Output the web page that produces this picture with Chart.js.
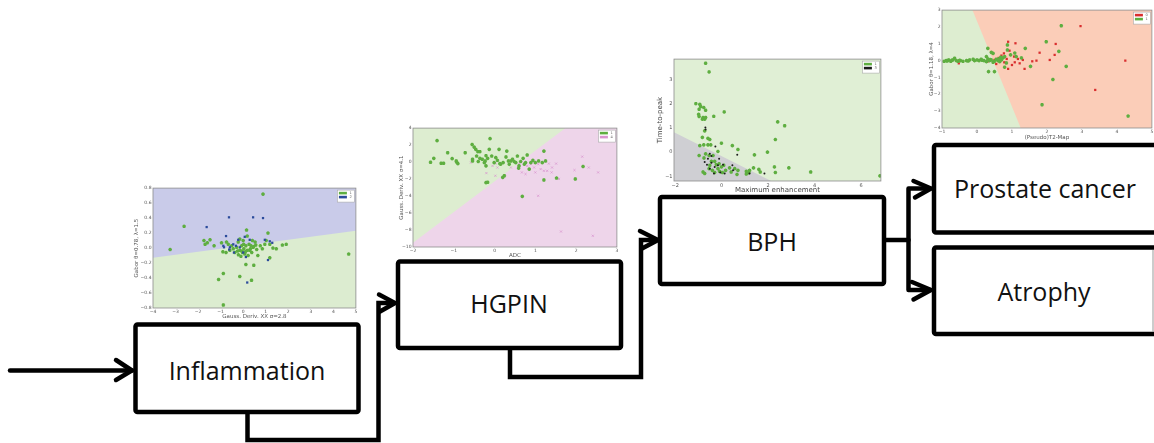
<!DOCTYPE html>
<html>
<head>
<meta charset="utf-8">
<script src="https://cdn.jsdelivr.net/npm/chart.js@4.4.1/dist/chart.umd.min.js"></script>
<style>
  body { margin: 0; background: #fff; width: 1154px; height: 443px; overflow: hidden; position: relative; }
  svg { position: absolute; left: 0; top: 0; }
  canvas.plot { position: absolute; }
  .box text { font-family: "Open Sans", Lato, sans-serif; font-size: 25px; fill: #111; text-anchor: middle; }
</style>
</head>
<body>

<svg width="1154" height="443" viewBox="0 0 1154 443">
  <g fill="none" stroke="#000" stroke-width="4.5" stroke-linecap="round" stroke-linejoin="miter">
    <!-- input arrow -->
    <path d="M10,370.5 H132"/>
    <path d="M116,360 L132,370.5 L116,380"/>
    <!-- Inflammation -> HGPIN -->
    <path d="M247.5,412 V440 H378.5 V303 H394"/>
    <path d="M379,294.5 L395,303 L380,311.5"/>
    <!-- HGPIN -> BPH -->
    <path d="M510,348 V377 H641 V240 H657"/>
    <path d="M640,231 L658,240 L642,248.5"/>
    <!-- BPH -> branches -->
    <path d="M884,240 H908.5"/>
    <path d="M908.5,188.5 V290 M908.5,188.5 H930 M908.5,290 H930"/>
    <path d="M913.5,181 L931,188.5 L915,197.5"/>
    <path d="M912,282 L931,290 L913.5,299.5"/>
  </g>
  <g class="box" fill="#fff" stroke="#000" stroke-width="4.5">
    <rect x="135.5" y="324.5" width="223" height="87.5" rx="2"/>
    <rect x="398" y="261.5" width="223" height="86.5" rx="2"/>
    <rect x="660" y="197" width="224" height="87" rx="2"/>
    <rect x="934" y="145" width="240" height="87.5" rx="2"/>
    <rect x="934" y="247.5" width="240" height="86.5" rx="2"/>
  </g>
  <line x1="1153" y1="250" x2="1153" y2="332" stroke="#999" stroke-width="1"/>
  <g class="box">
    <text x="247" y="380">Inflammation</text>
    <text x="509" y="313">HGPIN</text>
    <text x="772" y="251">BPH</text>
    <text x="1045" y="198">Prostate cancer</text>
    <text x="1044" y="301">Atrophy</text>
  </g>
</svg>

<canvas id="plotInfl" class="plot"></canvas>
<canvas id="plotHgpin" class="plot"></canvas>
<canvas id="plotBph" class="plot"></canvas>
<canvas id="plotPca" class="plot"></canvas>

<script>
// ---------- Inflammation stage: Gauss. Deriv. XX vs Gabor ----------
const inflXTicks = [-4, -3, -2, -1, 0, 1, 2, 3, 4, 5];
const inflYTicks = [-0.8, -0.6, -0.4, -0.2, 0, 0.2, 0.4, 0.6, 0.8];
const inflBoundary = [[-4, -0.13], [5, 0.23]];
const inflClass1 = [
  [0.88, 0.72], [-2.62, 0.29], [-3.24, -0.02], [-1.74, 0.10], [-1.69, 0.05], [-1.59, 0.07], [-1.47, 0.11],
  [-1.29, 0.03], [-0.96, 0.07], [-0.74, 0.08], [-0.76, -0.06], [-0.88, -0.34], [-1.09, -0.42], [-0.88, -0.76],
  [-0.15, -0.38], [0.15, 0.24], [0.18, 0.16], [0.12, -0.22], [0.47, -0.23], [0.37, -0.43], [1.10, 0.20],
  [1.18, 0.05], [1.32, 0.0], [1.47, -0.01], [1.18, -0.13], [1.74, 0.04], [1.91, 0.05], [0.65, -0.10],
  [0.56, 0.04], [0.44, 0.01], [0.29, -0.03], [4.68, -0.08],
  [-0.51, 0.03], [-0.44, -0.01], [-0.37, -0.06], [-0.29, 0.01], [-0.22, 0.08], [-0.15, -0.03], [-0.07, 0.03],
  [-0.03, -0.06], [0.03, -0.01], [0.07, -0.08], [0.12, 0.03], [0.18, -0.03], [0.22, -0.10], [0.26, 0.05],
  [0.32, -0.01], [0.38, -0.06], [0.41, 0.10], [0.47, 0.02], [0.53, 0.08], [0.0, 0.10], [-0.15, 0.12],
  [-0.59, -0.03], [-0.66, 0.05], [-0.21, -0.09], [-0.10, -0.11], [0.76, 0.03], [0.96, 0.05], [0.85, -0.01],
  [-0.05, -0.04], [0.10, -0.05], [0.02, 0.05], [-0.25, -0.04], [0.35, 0.03], [0.60, -0.02], [1.02, 0.10], [-0.90, -0.05]
];
const inflClass2 = [
  [-0.63, 0.41], [0.44, 0.41], [0.88, 0.40], [-1.62, 0.28], [-0.76, 0.16], [0.07, 0.15], [0.29, 0.11],
  [0.96, 0.11], [1.18, 0.09], [1.29, 0.07], [-0.88, 0.03], [-0.85, 0.01], [-0.62, -0.02], [-0.44, 0.05],
  [-0.32, 0.03], [-0.22, 0.11], [-0.15, 0.01], [-0.41, -0.06], [0.12, -0.12], [0.18, -0.46], [1.10, -0.16],
  [-0.59, 0.01], [0.0, -0.06]
];

// ---------- HGPIN stage: ADC vs Gauss. Deriv. XX ----------
const hgpinXTicks = [-2, -1, 0, 1, 2, 3];
const hgpinYTicks = [-10, -8, -6, -4, -2, 0, 2, 4];
const hgpinBoundary = [[-2, -9.5], [1.74, 4]];
const hgpinClass1 = [
  [-1.41, 2.53], [-1.57, -0.02], [-1.49, 0.44], [-1.31, -0.14], [-1.25, -0.14], [-1.15, 1.10], [-1.04, 0.40],
  [-0.94, 0.13], [-0.90, -0.18], [-0.93, 0], [-0.72, 1.10], [-0.55, 2.07], [-0.50, 1.76], [-0.46, 1.49],
  [-0.41, 1.22], [-0.36, 1.22], [-0.44, 0.71], [-0.54, 0.33], [-0.54, 0.13], [-0.23, 0.13], [-0.21, 0.75],
  [-0.17, 0.44], [-0.13, 1.49], [-0.11, 2.76], [-0.25, -0.06], [-0.21, -0.45], [-0.17, -2.38], [-0.21, -2.42],
  [-0.07, 0.71], [-0.01, -0.06], [0.07, 0.21], [0.11, 1.49], [0.15, -0.25], [0.21, -0.06], [0.20, -1.80],
  [0.24, -1.61], [0.28, 0.60], [0.30, 1.29], [0.36, -0.25], [0.34, 0.13], [0.44, 0.33], [0.48, 0.06],
  [0.52, -0.06], [0.56, 0.71], [0.60, -0.45], [0.59, -0.72], [0.64, 0.06], [0.70, 0.44], [0.68, -4.04],
  [0.76, -0.06], [0.80, 0.83], [0.85, -0.83], [0.89, -0.06], [0.94, 0.21], [1.0, -0.06], [1.08, 0.13],
  [1.17, -0.06], [1.21, 1.29], [1.21, -2.11], [1.25, 0.13], [1.52, -1.88], [1.98, -1.99], [2.17, -0.52],
  [-0.30, 0.33], [-0.40, 0.06], [-0.36, 0.44], [0.03, 0.52], [0.13, -0.18], [0.40, 0.13], [0.73, -0.25]
];
const hgpinClass4 = [
  [0.03, -0.18], [-0.05, -0.45], [0.07, -0.64], [-0.20, -1.30], [0.02, -1.61], [0.40, -0.64], [0.60, -0.18],
  [0.67, -1.22], [0.76, -1.41], [0.80, -0.45], [1.0, -1.22], [1.07, -0.25], [1.21, -1.03], [1.29, -1.03],
  [1.33, -0.18], [1.40, -1.22], [1.41, -0.64], [1.58, -1.99], [1.96, -0.95], [2.15, 0.64], [2.31, -0.64],
  [2.54, -1.22], [1.07, -3.97], [1.63, -8.18], [2.41, -8.68], [0.89, -0.25], [0.97, -0.64], [1.13, -0.83],
  [1.51, -0.18], [-0.58, -0.06]
];

// ---------- BPH stage: Maximum enhancement vs Time-to-peak ----------
const bphXTicks = [-2, 0, 2, 4, 6];
const bphYTicks = [-1, 0, 1, 2, 3];
const bphBoundary = [[-2.05, 0.82], [2.13, -1.19]];
const bphClass1 = [
  [-0.69, 3.67], [-0.54, 3.31], [-1.11, 2.0], [-0.94, 1.97], [-0.90, 1.88], [-0.77, 1.84], [-0.97, 1.77],
  [-0.69, 1.73], [-0.99, 1.56], [-0.97, 1.47], [-0.80, 1.43], [-0.73, 1.36], [-0.69, 1.43], [-0.83, 1.36],
  [-0.34, 1.48], [0.11, 1.66], [-0.73, 0.88], [-0.83, 0.61], [-0.59, 0.57], [-0.51, 0.52], [-0.94, 0.27],
  [-0.77, 0.30], [-0.59, 0.30], [-0.47, 0.30], [-0.01, 0.37], [0.46, 0.27], [0.70, 0.11], [-0.16, 0.03],
  [-0.97, -0.14], [-0.69, -0.07], [-0.54, -0.14], [-0.44, -0.38], [-0.30, -0.38], [0.09, -0.54], [0.34, -0.65],
  [0.56, -0.68], [0.70, -0.75], [0.41, -0.82], [0.66, -0.92], [1.06, -0.79], [1.20, -0.75], [1.37, -0.65],
  [1.60, -0.71], [1.66, -0.82], [1.41, -0.11], [1.97, 0.0], [2.41, 1.25], [2.71, 1.09], [2.31, 0.52],
  [2.27, -0.61], [2.31, -0.84], [2.89, -0.65], [3.83, -0.82], [6.81, -0.98], [-0.80, -0.82], [-0.73, -0.88],
  [-0.54, -0.68], [-0.40, -0.75], [-0.23, -0.52], [-0.16, -0.68], [-0.09, -0.79], [-0.01, -0.61], [0.03, -0.84],
  [0.17, -0.75], [-0.30, -0.84], [-0.51, -0.54], [-0.37, -0.14], [-0.76, -0.24], [-0.11, -0.48], [1.06, -0.90],
  [1.17, -0.85]
];
const bphClass3 = [
  [-0.70, 1.02], [-0.69, 0.93], [-0.27, 0.23], [-0.51, -0.07], [-0.44, -0.16], [-0.59, -0.27], [0.67, -0.11],
  [0.46, -0.54], [-0.63, -0.52], [-0.51, -0.68], [-0.30, -0.61], [-0.16, -0.54], [0.06, -0.52], [-0.33, -0.88],
  [-0.06, -0.84], [0.13, -0.88], [0.49, -0.75], [1.20, -0.88], [1.84, -0.88], [-0.73, -0.41], [-0.44, -0.44],
  [-0.11, -0.27]
];

// ---------- last stage: (Pseudo)T2-Map vs Gabor ----------
const pcaXTicks = [-1, 0, 1, 2, 3, 4, 5];
const pcaYTicks = [-4, -3, -2, -1, 0, 1, 2, 3];
const pcaBoundary = [[-1, 3], [-0.13, 3], [1.25, -4]];
const pcaClass0 = [
  [-0.52, -0.16], [0.30, -0.06], [0.50, 0.04], [0.55, -0.20], [0.62, 0.16], [0.70, 0.30], [0.77, 0.43],
  [0.89, 1.12], [0.93, 0.59], [1.06, 0.24], [1.10, 1.03], [1.08, -0.10], [1.17, 0.10], [1.22, -0.16],
  [1.31, 0.04], [1.36, -0.49], [1.0, -0.26], [0.89, -0.49], [1.58, -0.04], [1.70, 0.0], [1.79, 0.47],
  [2.08, 0.04], [2.22, 0.34], [2.25, 0.99], [2.96, 2.05], [3.38, -1.74], [4.24, 0.0], [0.78, -0.10],
  [0.85, 0.10], [0.65, 0.0]
];
const pcaClass1 = [
  [-0.94, -0.04], [-0.88, 0], [-0.81, 0.04], [-0.75, -0.04], [-0.69, 0.04], [-0.64, 0.14], [-0.59, 0],
  [-0.54, -0.04], [-0.47, 0], [-0.40, -0.04], [-0.30, 0], [-0.21, 0.04], [-0.11, 0.08], [-0.07, 0],
  [0, 0.04], [0.06, 0], [0.12, 0.08], [0.20, 0], [0.27, -0.06], [0.31, 0.10], [0.36, 0], [0.41, 0.04],
  [0.46, -0.10], [0.50, -0.04], [0.55, 0.08], [0.60, 0], [0.65, -0.06], [0.70, 0.04], [0.74, 0.16],
  [0.79, 0.24], [0.31, 0.73], [0.41, 0.49], [0.46, 0.43], [0.33, -0.65], [0.50, -0.65], [0.27, 0.24],
  [0.87, 0.93], [0.87, 0.63], [0.96, 0.34], [1.08, 0.45], [1.12, 0.24], [1.27, 0.16], [1.38, 0.73],
  [0.79, -0.39], [0.84, -0.14], [1.53, -0.34], [1.98, 1.12], [2.34, 0.55], [2.41, 2.07], [2.17, -1.12],
  [2.55, -0.34], [1.86, -2.62], [4.32, -3.29], [-0.85, -0.02], [-0.72, 0.02], [-0.50, 0.02], [-0.25, -0.02],
  [0.15, 0.02], [0.38, 0.06], [0.62, 0.10], [0.68, 0.20]
];

const GREEN = '#5eae40';

// background, frame and the little legend box of each plot
const plotDecor = {
  id: 'plotDecor',
  beforeDatasetsDraw(chart, args, opts) {
    const a = chart.chartArea, ctx = chart.ctx;
    ctx.save();
    ctx.fillStyle = opts.bg;
    ctx.fillRect(a.left, a.top, a.right - a.left, a.bottom - a.top);
    ctx.restore();
  },
  afterDatasetsDraw(chart, args, opts) {
    const a = chart.chartArea, ctx = chart.ctx;
    ctx.save();
    ctx.strokeStyle = '#8c8c8c';
    ctx.lineWidth = 0.8;
    ctx.strokeRect(a.left, a.top, a.right - a.left, a.bottom - a.top);

    const series = chart.data.datasets.filter(d => d.type === 'scatter');
    const bw = 17, bh = 4 + series.length * 4;
    const bx = a.right - bw - 1.5, by = a.top + 2;
    ctx.fillStyle = '#fff';
    ctx.fillRect(bx, by, bw, bh);
    ctx.strokeStyle = '#aaa';
    ctx.lineWidth = 0.6;
    ctx.strokeRect(bx, by, bw, bh);
    ctx.font = '3.6px "DejaVu Sans"';
    ctx.textBaseline = 'middle';
    series.forEach((d, i) => {
      const y = by + 3 + i * 4;
      ctx.fillStyle = d.legendColor;
      ctx.fillRect(bx + 1.5, y - 1.3, 8, 2.6);
      ctx.fillStyle = '#666';
      ctx.fillText(d.label, bx + 12, y);
    });
    ctx.restore();
  }
};

function fmtTick(v, dec) {
  const s = Math.abs(v).toFixed(dec);
  return v < 0 ? '\u2212' + s : s;
}

function makeAxis(o, horizontal) {
  const ax = horizontal ? o.x : o.y;
  return {
    type: 'linear',
    min: ax.min,
    max: ax.max,
    grid: { display: false, drawTicks: false },
    border: { display: false },
    afterBuildTicks: s => { s.ticks = ax.ticks.map(v => ({ value: v })); },
    ticks: {
      autoSkip: false, maxRotation: 0, padding: 1.5,
      color: '#555',
      font: { family: 'DejaVu Sans', size: o.tickSize },
      callback: v => fmtTick(v, ax.dec || 0)
    },
    title: {
      display: true, text: ax.title, color: o.titleColor || '#555', padding: 0,
      font: { family: 'DejaVu Sans', size: o.titleSize }
    },
    afterFit: s => { if (horizontal) s.height = o.xH; else s.width = o.yW; }
  };
}

function makePlot(id, o) {
  const padT = 4, padR = 4;
  const [l, t, r, b] = o.box;
  const cv = document.getElementById(id);
  cv.width = (r - l) + o.yW + padR;
  cv.height = (b - t) + o.xH + padT;
  cv.style.left = (l - o.yW) + 'px';
  cv.style.top = (t - padT) + 'px';

  const pts = arr => arr.map(p => ({ x: p[0], y: p[1] }));
  const datasets = [{
    type: 'line', data: pts(o.region.data), fill: o.region.fill,
    backgroundColor: o.region.color, borderWidth: 0, pointRadius: 0, tension: 0, order: 10
  }];
  o.series.forEach(s => datasets.push({
    type: 'scatter', label: s.label, data: pts(s.data),
    pointStyle: s.style, pointRadius: s.radius,
    backgroundColor: s.color, borderColor: s.edge || s.color, borderWidth: s.width || 0,
    legendColor: s.color, order: s.order || 1
  }));

  new Chart(cv, {
    type: 'scatter',
    data: { datasets },
    options: {
      responsive: false,
      animation: false,
      events: [],
      layout: { padding: { top: padT, right: padR, left: 0, bottom: 0 } },
      plugins: {
        legend: { display: false },
        tooltip: { enabled: false },
        plotDecor: { bg: o.bg }
      },
      scales: { x: makeAxis(o, true), y: makeAxis(o, false) }
    },
    plugins: [plotDecor]
  });
}

makePlot('plotInfl', {
  box: [153, 187, 357, 308], yW: 20, xH: 12, tickSize: 4.5, titleSize: 5.5,
  x: { min: -4, max: 5, ticks: inflXTicks, title: 'Gauss. Deriv. XX \u03c3=2.8' },
  y: { min: -0.8, max: 0.8, ticks: inflYTicks, dec: 1, title: 'Gabor \u03b8=0.78, \u03bb=1.5' },
  bg: '#c9cbe9',
  region: { data: inflBoundary, fill: 'start', color: '#dcecd0' },
  series: [
    { label: '1', data: inflClass1, color: GREEN, style: 'star', radius: 1.8, width: 1.1, order: 2 },
    { label: '2', data: inflClass2, color: '#2b4b9b', style: 'rect', radius: 1.6, order: 1 }
  ]
});

makePlot('plotHgpin', {
  box: [413, 127, 618, 247], yW: 15, xH: 12, tickSize: 4.5, titleSize: 5.5,
  x: { min: -2, max: 3, ticks: hgpinXTicks, title: 'ADC' },
  y: { min: -10, max: 4, ticks: hgpinYTicks, title: 'Gauss. Deriv. XX \u03c3=4.1' },
  bg: '#eed5ea',
  region: { data: hgpinBoundary, fill: 'end', color: '#ddedd0' },
  series: [
    { label: '1', data: hgpinClass1, color: GREEN, style: 'star', radius: 1.8, width: 1.1, order: 1 },
    { label: '4', data: hgpinClass4, color: '#d994cf', style: 'crossRot', radius: 1.5, width: 0.7, order: 2 }
  ]
});

makePlot('plotBph', {
  box: [674, 58, 882, 181], yW: 18, xH: 13, tickSize: 5, titleSize: 7, titleColor: '#444',
  x: { min: -2.05, max: 6.85, ticks: bphXTicks, title: 'Maximum enhancement' },
  y: { min: -1.19, max: 3.84, ticks: bphYTicks, title: 'Time-to-peak' },
  bg: '#e0efd5',
  region: { data: bphBoundary, fill: 'start', color: '#cfcfd3' },
  series: [
    { label: '1', data: bphClass1, color: GREEN, style: 'star', radius: 1.8, width: 1.1, order: 2 },
    { label: '3', data: bphClass3, color: '#1c1c1c', style: 'circle', radius: 1.0, order: 1 }
  ]
});

makePlot('plotPca', {
  box: [942, 9, 1153, 128], yW: 14, xH: 13, tickSize: 4.5, titleSize: 5.5,
  x: { min: -1, max: 5, ticks: pcaXTicks, title: '(Pseudo)T2-Map' },
  y: { min: -4, max: 3, ticks: pcaYTicks, title: 'Gabor \u03b8=1.18, \u03bb=4' },
  bg: '#fbcdb8',
  region: { data: pcaBoundary, fill: 'start', color: '#ddedd0' },
  series: [
    { label: '0', data: pcaClass0, color: '#d92e2e', style: 'rect', radius: 1.6, order: 2 },
    { label: '1', data: pcaClass1, color: GREEN, style: 'star', radius: 1.8, width: 1.1, order: 1 }
  ]
});
</script>
</body>
</html>
